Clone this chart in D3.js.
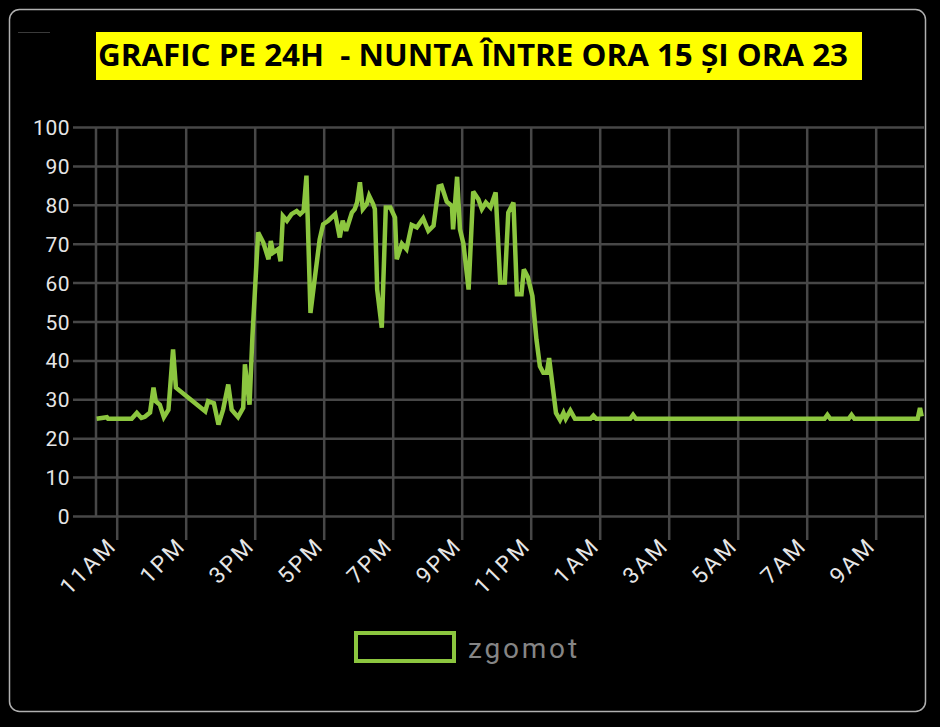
<!DOCTYPE html>
<html>
<head>
<meta charset="utf-8">
<script src="https://cdn.jsdelivr.net/npm/d3@7"></script>
<style>
  html, body { margin: 0; padding: 0; background: #000; }
  svg { display: block; }
</style>
</head>
<body>
<svg id="chart" width="940" height="727"></svg>
<script>
// ---- data ----
const titleText = "GRAFIC PE 24H  - NUNTA ÎNTRE ORA 15 ȘI ORA 23";
const seriesName = "zgomot";
const startTime = "10:24";   // window start (day 1)
const endTime = "10:24";     // window end (day 2)
const times = [
  "10:25","10:43","10:45","11:26","11:35","11:43","11:49","11:58","12:04","12:08",
  "12:15","12:22","12:30","12:38","12:43","13:34","13:39","13:49","13:57","14:05",
  "14:14","14:20","14:31","14:40","14:43","14:51","14:56","15:06","15:15","15:24",
  "15:28","15:32","15:41","15:45","15:49","15:56","16:04","16:13","16:19","16:25",
  "16:30","16:37","16:45","16:53","16:59","17:08","17:20","17:28","17:33","17:39",
  "17:49","17:54","17:58","18:03","18:08","18:15","18:19","18:26","18:29","18:33",
  "18:41","18:45","18:48","18:56","19:04","19:07","19:16","19:24","19:33","19:42",
  "19:53","20:02","20:11","20:20","20:25","20:34","20:43","20:45","20:52","20:57",
  "21:03","21:12","21:20","21:29","21:35","21:42","21:50","21:59","22:07","22:15",
  "22:21","22:30","22:36","22:44","22:48","22:55","23:03","23:10","23:16","23:22",
  "23:28","23:32","23:44","23:51","23:57","00:01","00:09","00:17","00:44","00:49",
  "00:54","01:53","01:58","02:03","07:31","07:36","07:41","08:13","08:18","08:23",
  "10:13","10:17","10:20"
];
const values = [
  25,25.4,25,25,26.5,25.2,25.5,26.6,33,29.5,
  28.6,25.4,27.3,42.8,33,26.9,29.5,29,23.5,27.3,
  33.8,27.3,25.4,27.8,39,28.6,46,72.9,70.3,66,
  70.7,67.7,68.6,65.5,77.1,75.9,77.6,78.4,77.6,78.4,
  87.5,52.2,61.7,71.1,75,75.9,77.6,71.6,75.9,73.3,
  78,78.9,80.6,85.8,78.9,80.2,82.3,80.2,78.9,58.2,
  48.4,66,79.3,79.3,76.7,66,70,68.6,74.8,74.2,
  76.5,73.3,74.6,84.7,84.9,80.8,79.7,73.7,87.2,73.7,
  70,58.2,83.4,81.4,78.9,80.6,79.3,83.2,60,60,
  78,80.6,57,57,63.4,61.4,56.5,45.4,38.5,36.8,
  36.8,40.6,26.5,24.7,26.5,25,27.1,25,25,25.8,
  25,25,26,25,25,26,25,25,26,25,
  25,27.8,25.6
];
const yTicks = [0,10,20,30,40,50,60,70,80,90,100];
const xTickLabels = ["11AM","1PM","3PM","5PM","7PM","9PM","11PM","1AM","3AM","5AM","7AM","9AM"];

// ---- helpers ----
function toDate(hhmm, dayShift) {
  const [h, m] = hhmm.split(":").map(Number);
  return new Date(2023, 0, 1 + dayShift, h, m);
}
const [sh, sm] = startTime.split(":").map(Number);
const startMin = sh * 60 + sm;
const points = times.map((t, i) => {
  const [h, m] = t.split(":").map(Number);
  const shift = (h * 60 + m) < startMin ? 1 : 0;
  return { date: toDate(t, shift), value: values[i] };
});
const tickDates = xTickLabels.map(lbl => {
  let h = parseInt(lbl, 10) % 12;
  if (lbl.endsWith("PM")) h += 12;
  const shift = (h * 60) < startMin ? 1 : 0;
  return new Date(2023, 0, 1 + shift, h, 0);
});

// ---- layout ----
const svg = d3.select("#chart");
const pL = 96, pR = 924, pT = 127, pB = 516;
const x = d3.scaleTime().domain([toDate(startTime, 0), toDate(endTime, 1)]).range([pL, pR]);
const y = d3.scaleLinear().domain([0, 100]).range([pB, pT]);

const gridColor = "#474747";
const lineColor = "#8cc63f";

// outer rounded frame
svg.append("rect").attr("x", 9.5).attr("y", 9.5).attr("width", 916).attr("height", 702)
  .attr("rx", 10).attr("fill", "#000").attr("stroke", "#b0b0b0").attr("stroke-width", 1.5);
svg.append("line").attr("x1", 18).attr("x2", 50).attr("y1", 32.5).attr("y2", 32.5)
  .attr("stroke", "#3a3a3a").attr("stroke-width", 1);

// title
svg.append("rect").attr("x", 96).attr("y", 32).attr("width", 766).attr("height", 48).attr("fill", "#ffff00");
svg.append("text").attr("x", 98).attr("y", 65.5)
  .attr("font-family", "'Open Sans', 'Liberation Sans', sans-serif")
  .attr("font-weight", 700).attr("font-size", 31)
  .style("white-space", "pre")
  .attr("textLength", 750).attr("lengthAdjust", "spacingAndGlyphs")
  .attr("fill", "#000").text(titleText);

// horizontal grid
const yAxis = d3.axisLeft(y).tickValues(yTicks).tickSize(0).tickPadding(0);
const gy = svg.append("g").attr("transform", `translate(73,0)`).call(yAxis);
gy.select(".domain").remove();
gy.selectAll(".tick line").attr("x1", 0).attr("x2", pR - 73).attr("stroke", gridColor).attr("stroke-width", 2.5);
gy.selectAll(".tick text").attr("fill", "#e6e6e6").attr("font-size", 21)
  .attr("font-family", "Roboto, 'Noto Sans', sans-serif").attr("x", -3).attr("dy", "0.36em")
  .attr("letter-spacing", 0.5);

// left axis line
svg.append("line").attr("x1", pL).attr("x2", pL).attr("y1", pT).attr("y2", pB)
  .attr("stroke", gridColor).attr("stroke-width", 2.5);

// vertical grid + x labels
const xAxis = d3.axisBottom(x).tickValues(tickDates).tickSize(0).tickFormat((d, i) => xTickLabels[i]);
const gx = svg.append("g").attr("transform", `translate(0,${pB})`).call(xAxis);
gx.select(".domain").remove();
gx.selectAll(".tick line").attr("y1", -(pB - pT)).attr("y2", 24).attr("stroke", gridColor).attr("stroke-width", 2.5);
gx.selectAll(".tick text")
  .attr("fill", "#e6e6e6").attr("font-size", 22.5)
  .attr("font-family", "Roboto, 'Noto Sans', sans-serif")
  .attr("letter-spacing", 2.4)
  .attr("text-anchor", "end").attr("x", 0).attr("y", 0).attr("dy", 0)
  .attr("transform", "translate(1,31) rotate(-45)");

// line
const line = d3.line().x(d => x(d.date)).y(d => y(d.value)).curve(d3.curveLinear);
svg.append("path").datum(points).attr("d", line)
  .attr("fill", "none").attr("stroke", lineColor).attr("stroke-width", 4.5)
  .attr("stroke-linejoin", "miter").attr("stroke-miterlimit", 3);

// legend
svg.append("rect").attr("x", 356).attr("y", 633).attr("width", 98).attr("height", 28)
  .attr("fill", "none").attr("stroke", lineColor).attr("stroke-width", 4);
svg.append("text").attr("x", 468).attr("y", 658).attr("fill", "#858585")
  .attr("font-family", "Roboto, 'Noto Sans', sans-serif").attr("font-size", 28)
  .attr("letter-spacing", 2.8).text(seriesName);
</script>
</body>
</html>
